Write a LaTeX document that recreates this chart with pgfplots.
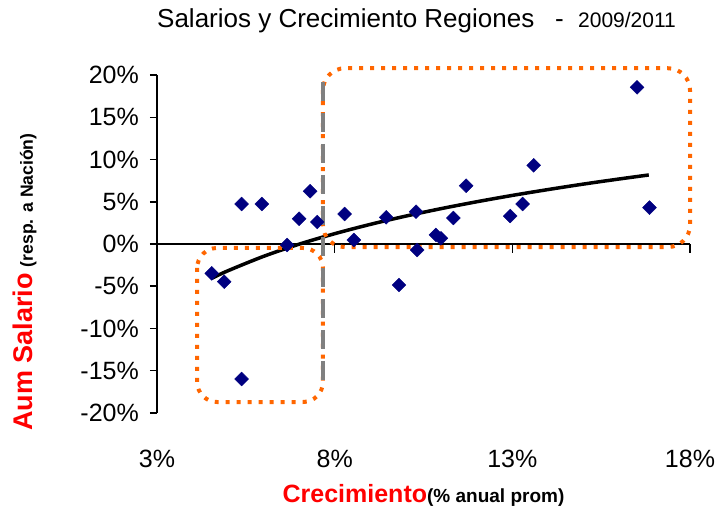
\documentclass[border=0pt]{standalone}
\usepackage{pgfplots}
\pgfplotsset{compat=1.18}
\usepackage{fontspec}
\setmainfont{Liberation Sans}
\definecolor{puntos}{RGB}{0,0,128}
\definecolor{naranja}{RGB}{255,102,0}
\definecolor{gris}{RGB}{128,128,128}
\definecolor{rojo}{RGB}{255,0,0}
\begin{document}
\begin{tikzpicture}
\useasboundingbox (-157pt,-95pt) rectangle (560pt,413pt);
\begin{axis}[
  at={(0,0)}, anchor=south west,
  scale only axis, width=533pt, height=338pt,
  xmin=3, xmax=18, ymin=-20, ymax=20,
  clip=false,
  axis x line*=bottom, axis y line*=left,
  x axis line style={draw=none},
  y axis line style={line width=1.5pt},
  xtick={3,8,13,18}, xticklabels={3\%,8\%,13\%,18\%},
  ytick={-20,-15,...,20},
  yticklabels={-20\%,-15\%,-10\%,-5\%,0\%,5\%,10\%,15\%,20\%},
  xtick style={draw=none},
  ytick style={line width=1.5pt, black},
  tick align=outside, major tick length=7pt,
  ticklabel style={font=\fontsize{25}{30}\selectfont, inner sep=0pt},
  xticklabel style={anchor=base, yshift=-47pt},
  yticklabel style={anchor=east, xshift=-11pt},
]
% eje horizontal en 0
\draw[black, line width=2pt] (axis cs:3,0) -- (axis cs:18,0);
\draw[black, line width=1.5pt] (axis cs:3,0) -- ++(0pt,-9pt);
\draw[black, line width=1.5pt] (axis cs:8,0) -- ++(0pt,-9pt);
\draw[black, line width=1.5pt] (axis cs:13,0) -- ++(0pt,-9pt);
\draw[black, line width=1.5pt] (axis cs:18,0) -- ++(0pt,-9pt);

% regiones
\addplot[only marks, mark=square*, mark size=4.9pt,
  mark options={rotate=45, fill=puntos, draw=puntos}] coordinates {
  (4.54,-3.47) (4.89,-4.46) (5.38,4.73) (5.38,-15.98) (5.95,4.73)
  (6.66,-0.12) (7.00,2.99) (7.31,6.24) (7.51,2.60) (8.28,3.55)
  (8.54,0.47) (9.45,3.16) (9.81,-4.85) (10.29,3.82) (10.32,-0.71)
  (10.85,1.07) (10.99,0.67) (11.34,3.08) (11.70,6.90) (12.94,3.31)
  (13.29,4.73) (13.60,9.31) (16.51,18.54) (16.86,4.30)
};

% tendencia (logaritmica)
\addplot[black, line width=3.5pt, smooth] coordinates {
  (4.54,-4.06) (5,-3.16) (6,-1.46) (7,-0.02) (8,1.22) (9,2.32)
  (10,3.30) (11,4.19) (12,5.00) (13,5.75) (14,6.44) (15,7.09)
  (16,7.69) (16.84,8.17)
};

\draw[naranja, line width=4pt, dash pattern=on 4pt off 7pt, rounded corners=22pt]
  (axis cs:7.67,20.8) rectangle (axis cs:18,-0.36);
\draw[naranja, line width=4pt, dash pattern=on 4pt off 7pt, rounded corners=20pt]
  (axis cs:4.13,-0.47) rectangle (axis cs:7.67,-18.7);
\draw[gris, line width=4pt, dash pattern=on 19pt off 12pt]
  (axis cs:7.68,19.2) -- (axis cs:7.68,-17);
\end{axis}

\node[anchor=base west, inner sep=0pt, font=\fontsize{26}{30}\selectfont]
  at (0pt,385pt) {Salarios y Crecimiento Regiones};
\node[anchor=base west, inner sep=0pt, font=\fontsize{26}{30}\selectfont]
  at (398pt,385pt) {-};
\node[anchor=base west, inner sep=0pt, font=\fontsize{21}{25}\selectfont]
  at (421pt,385pt) {2009/2011};
\node[rotate=90, anchor=base, inner sep=0pt] at (-124pt,131pt)
  {{\color{rojo}\bfseries\fontsize{27}{30}\selectfont Aum Salario}\hspace{6pt}{\bfseries\fontsize{17.6}{20}\selectfont (resp. a Nación)}};
\node[anchor=base, inner sep=0pt] at (266.5pt,-89pt)
  {{\color{rojo}\bfseries\fontsize{25}{30}\selectfont Crecimiento}{\bfseries\fontsize{19}{22}\selectfont (\% anual prom)}};
\end{tikzpicture}
\end{document}
